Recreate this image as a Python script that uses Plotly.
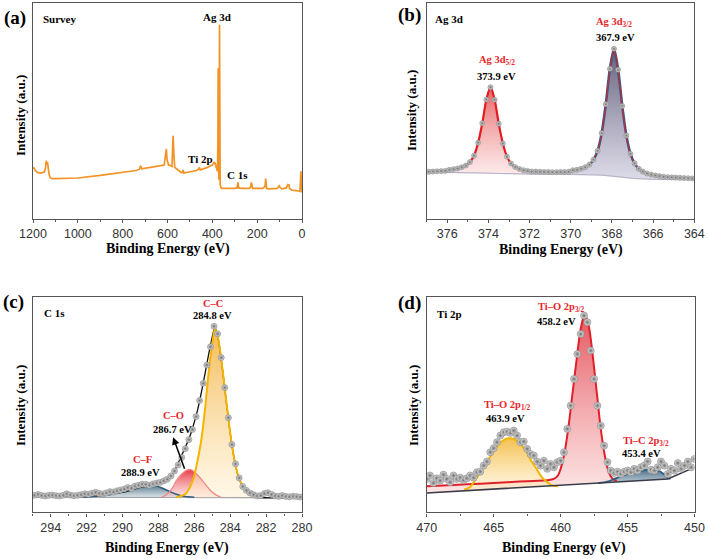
import plotly.graph_objects as go

# ---------------- (a) Survey ----------------
survey_be = [1200, 1195, 1190, 1180, 1165, 1150, 1145, 1141, 1138, 1135, 1132, 1128, 1122, 1115, 1100,
             1000, 900, 800, 740, 725, 720, 715, 700, 650, 615, 608, 605, 602, 595, 585, 580, 577, 575,
             572, 568, 560, 540, 533, 530, 527, 500, 470, 462, 458, 454, 430, 400, 392, 388, 384, 380,
             377, 375, 374, 373, 371, 369, 368, 367, 365, 362, 358, 300, 290, 286, 282, 270, 235, 230,
             226, 220, 175, 165, 162, 158, 150, 110, 102, 98, 90, 70, 63, 58, 55, 45, 30, 15, 9, 7, 5,
             3, 1, 0]
survey_int = [23.9, 23.6, 22.5, 21.6, 21.3, 21.8, 23.1, 27.0, 25.2, 26.4, 23.6, 20.5, 19.0, 18.7, 18.7,
              19.0, 20.2, 21.6, 22.5, 23.1, 24.7, 23.3, 23.5, 24.4, 25.0, 29.0, 32.4, 27.5, 25.0, 24.7,
              24.4, 33.6, 38.6, 30.6, 24.1, 23.3, 21.6, 21.6, 22.8, 21.3, 21.8, 22.5, 23.1, 23.9, 22.8,
              23.6, 25.0, 26.2, 25.9, 24.4, 23.1, 22.1, 36.7, 69.9, 36.7, 18.2, 39.8, 90.0, 36.7, 15.9,
              14.7, 14.2, 14.2, 14.4, 17.0, 14.4, 14.2, 14.2, 14.7, 17.0, 14.2, 14.2, 15.1, 18.7, 14.2,
              14.0, 14.2, 15.4, 14.7, 14.0, 14.4, 15.9, 15.7, 14.0, 13.4, 13.3, 13.0, 12.8, 18.2, 22.1,
              16.7, 12.7, 12.3]
survey_ticks = [1200, 1000, 800, 600, 400, 200, 0]

# ---------------- (b) Ag 3d ----------------
ag_be = [376.9, 376.7, 376.5, 376.3, 376.1, 375.9, 375.7, 375.5, 375.3, 375.1, 374.9, 374.7, 374.5,
         374.3, 374.1, 373.9, 373.7, 373.5, 373.3, 373.1, 372.9, 372.7, 372.5, 372.3, 372.1, 371.9,
         371.7, 371.5, 371.3, 371.1, 370.9, 370.7, 370.5, 370.3, 370.1, 369.9, 369.7, 369.5, 369.3,
         369.1, 368.9, 368.7, 368.5, 368.3, 368.1, 367.9, 367.7, 367.5, 367.3, 367.1, 366.9, 366.7,
         366.5, 366.3, 366.1, 365.9, 365.7, 365.5, 365.3, 365.1, 364.9, 364.7, 364.5, 364.3, 364.1]
ag_int = [21.9, 22.0, 22.1, 22.2, 22.3, 22.8, 23.1, 23.4, 24.0, 24.8, 26.4, 29.4, 35.4,
          44.4, 55.4, 61.1, 55.3, 44.2, 35.0, 28.9, 25.7, 24.1, 23.2, 22.6, 22.3, 22.0,
          22.0, 21.9, 21.8, 21.8, 21.7, 21.7, 21.8, 21.8, 21.9, 22.6, 22.8, 23.3, 24.0,
          25.2, 27.5, 31.6, 39.8, 53.2, 69.6, 78.9, 69.2, 52.4, 38.7, 30.2, 25.8, 23.3,
          22.0, 21.1, 20.6, 20.2, 19.9, 19.6, 19.4, 19.3, 19.2, 19.1, 19.0, 18.9, 18.8]
ag_bg_be = [377, 375.5, 374.5, 374.0, 373.5, 373.0, 372.0, 370.0, 369.0, 368.5, 368.0, 367.5, 367.0, 366.0, 364.0]
ag_bg = [21.7, 21.6, 21.5, 21.3, 21.1, 20.9, 20.8, 20.7, 20.5, 20.3, 19.9, 19.4, 18.8, 18.4, 18.2]
ag_split = 370.1
ag_ticks = [376, 374, 372, 370, 368, 366, 364]

# ---------------- (c) C 1s ----------------
c_be = [294.9, 294.7, 294.5, 294.3, 294.1, 293.9, 293.7, 293.5, 293.3, 293.1, 292.9, 292.7, 292.5,
        292.3, 292.1, 291.9, 291.7, 291.5, 291.3, 291.1, 290.9, 290.7, 290.5, 290.3, 290.1, 289.9,
        289.7, 289.5, 289.3, 289.1, 288.9, 288.7, 288.5, 288.3, 288.1, 287.9, 287.7, 287.5, 287.3,
        287.1, 286.9, 286.7, 286.5, 286.3, 286.1, 285.9, 285.7, 285.5, 285.3, 285.1, 284.9, 284.7,
        284.5, 284.3, 284.1, 283.9, 283.7, 283.5, 283.3, 283.1, 282.9, 282.7, 282.5, 282.3, 282.1,
        281.9, 281.7, 281.5, 281.3, 281.1, 280.9, 280.7, 280.5, 280.3, 280.1]
c_int = [7.9, 8.3, 7.8, 7.6, 7.9, 8.0, 7.7, 7.6, 7.9, 8.6, 8.0, 7.7, 7.9,
         8.2, 8.6, 8.4, 8.9, 9.3, 8.8, 8.5, 9.0, 9.6, 9.4, 10.0, 10.4, 10.8,
         11.5, 11.2, 12.2, 12.6, 13.1, 13.0, 12.6, 13.2, 13.6, 13.9, 14.6, 15.4, 16.9,
         19.2, 22.0, 25.5, 29.6, 33.8, 38.5, 44.5, 52.0, 60.0, 68.5, 77.0, 86.5, 83.0,
         72.0, 58.0, 44.0, 31.5, 22.5, 16.0, 12.0, 10.2, 9.0, 8.2, 7.6, 7.8, 8.7,
         9.1, 8.3, 7.6, 7.4, 7.8, 7.4, 7.2, 7.5, 7.3, 7.1]
c_fit_be = [295, 292, 291, 290, 289, 288.5, 288, 287.5, 287.2, 287.0, 286.8, 286.5, 286.2, 286.0,
            285.8, 285.6, 285.4, 285.2, 285.0, 284.85, 284.7, 284.5, 284.3, 284.1, 283.9, 283.7,
            283.5, 283.2, 282.9, 282.5, 280]
c_fit = [7.4, 7.8, 8.5, 9.3, 11.6, 12.4, 13.6, 15.5, 17.8, 20.9, 24.8, 30.2, 36.4, 41.9,
         48.1, 56.0, 64.5, 73.5, 81.5, 86.0, 82.2, 71.3, 57.4, 43.4, 31.0, 21.7,
         15.5, 10.9, 8.1, 7.0, 6.8]
c_bg_be = [295, 280]
c_bg = [7.0, 6.8]
cc_be = [287.0, 286.5, 286.2, 286.0, 285.8, 285.6, 285.4, 285.2, 285.0, 284.85, 284.7, 284.5, 284.3,
         284.1, 283.9, 283.7, 283.5, 283.2, 282.9, 282.5]
cc_int = [7.0, 8.5, 12.4, 17.1, 24.8, 34.1, 48.1, 65.1, 78.3, 85.6, 82.2, 71.3, 57.4,
          43.4, 31.0, 21.7, 15.5, 10.9, 8.1, 7.0]
co_be = [287.8, 287.5, 287.2, 287.0, 286.7, 286.4, 286.2, 286.0, 285.7, 285.4, 285.1, 284.8, 284.5]
co_int = [7.0, 8.5, 11.6, 14.7, 17.8, 19.7, 19.8, 18.9, 16.3, 13.2, 10.1, 8.1, 7.0]
cf_be = [292.5, 292, 291, 290.5, 290, 289.5, 289, 288.6, 288.2, 287.8, 287.4, 287.0, 286.5, 286.0]
cf_int = [7.0, 7.1, 7.8, 8.5, 9.9, 11.3, 12.4, 12.7, 12.4, 11.3, 9.8, 8.4, 7.3, 7.0]
c_ticks = [294, 292, 290, 288, 286, 284, 282, 280]

# ---------------- (d) Ti 2p ----------------
ti_be = [470.0, 469.75, 469.5, 469.25, 469.0, 468.75, 468.5, 468.25, 468.0, 467.75, 467.5, 467.25,
         467.0, 466.75, 466.5, 466.25, 466.0, 465.75, 465.5, 465.25, 465.0, 464.75, 464.5, 464.25,
         464.0, 463.75, 463.5, 463.25, 463.0, 462.75, 462.5, 462.25, 462.0, 461.75, 461.5, 461.25,
         461.0, 460.75, 460.5, 460.25, 460.0, 459.75, 459.5, 459.25, 459.0, 458.75, 458.5, 458.25,
         458.0, 457.75, 457.5, 457.25, 457.0, 456.75, 456.5, 456.25, 456.0, 455.75, 455.5, 455.25,
         455.0, 454.75, 454.5, 454.25, 454.0, 453.75, 453.5, 453.25, 453.0, 452.75, 452.5, 452.25,
         452.0, 451.75, 451.5, 451.25, 451.0, 450.75, 450.5, 450.25, 450.0]
ti_int = [15.5, 17.1, 13.6, 15.8, 14.7, 17.5, 15.5, 14.0, 17.1, 15.5, 16.1, 14.9,
          15.8, 17.1, 16.1, 18.6, 18.9, 21.7, 23.6, 27.9, 29.8, 32.6, 35.7, 37.2,
          37.5, 36.9, 38.0, 35.7, 32.6, 32.9, 29.5, 27.1, 26.4, 23.6, 21.7, 24.0,
          20.2, 22.5, 20.9, 23.3, 24.0, 27.9, 38.8, 49.6, 62.0, 73.6, 82.9, 91.5,
          88.4, 75.2, 62.0, 49.6, 40.3, 31.0, 23.3, 19.4, 18.3, 18.9, 17.8, 18.9,
          19.4, 18.6, 20.2, 19.4, 20.9, 21.7, 23.6, 19.8, 19.4, 20.9, 23.6, 21.7,
          17.8, 20.2, 19.4, 22.9, 20.2, 21.7, 23.6, 20.9, 24.8]
ti_bg_be = [470, 452, 450]
ti_bg = [9.0, 15.5, 20.9]
tio32_be = [470, 468, 466, 464, 462, 461, 460.5, 460.2, 460.0, 459.7, 459.4, 459.1, 458.8, 458.5,
            458.2, 457.9, 457.6, 457.3, 457.0, 456.7, 456.4, 456.1, 455.8]
tio32_int = [12.1, 12.7, 13.3, 14.0, 14.6, 14.9, 15.5, 17.1, 20.2, 27.9, 40.3, 55.8, 71.3, 85.3,
             92.2, 86.8, 72.9, 55.8, 38.8, 26.4, 18.6, 15.5, 14.7]
tio12_be = [467.2, 466.8, 466.4, 466.0, 465.6, 465.2, 464.8, 464.4, 464.0, 463.7, 463.4, 463.0,
            462.6, 462.2, 461.8, 461.4, 461.0, 460.6, 460.2]
tio12_int = [10.5, 11.6, 14.7, 18.6, 22.5, 26.4, 30.2, 32.9, 34.3, 34.4, 33.8, 31.8,
             28.7, 24.0, 20.2, 16.3, 14.0, 12.4, 12.1]
tic_be = [457.2, 456.5, 456.0, 455.5, 455.0, 454.5, 454.0, 453.5, 453.0, 452.6, 452.3, 452.0, 451.8]
tic_int = [13.6, 14.3, 15.5, 16.7, 17.8, 18.8, 19.4, 19.8, 19.7, 19.1, 17.8, 16.0, 15.5]
ti_ticks = [470, 465, 460, 455, 450]

# ---------------- style ----------------
SERIF = "Liberation Serif, Times New Roman, serif"
SANS = "Liberation Sans, Arial, sans-serif"
RED_TXT = "#E8262A"
FRAME = "#555555"

fig = go.Figure()


def poly(be, val, bg_be, bg_val, lo=None, hi=None, tol=0.01):
    lo = min(be) if lo is None else lo
    hi = max(be) if hi is None else hi
    pts = [(x, y) for x, y in zip(be, val) if lo - 1e-9 <= x <= hi + 1e-9]
    pts.sort(key=lambda p: -p[0])
    base = [(x, y) for x, y in zip(bg_be, bg_val) if lo - tol <= x <= hi + tol]
    base.sort(key=lambda p: p[0])
    allp = pts + base
    return [p[0] for p in allp], [p[1] for p in allp]


def add_fill(be, val, bg_be, bg_val, xa, ya, c_bot, c_top, lo=None, hi=None, tol=0.01):
    xs, ys = poly(be, val, bg_be, bg_val, lo, hi, tol)
    fig.add_trace(go.Scatter(x=xs, y=ys, xaxis=xa, yaxis=ya, mode="lines", fill="toself",
                             line=dict(width=0, color="rgba(0,0,0,0)"),
                             fillgradient=dict(type="vertical", colorscale=[[0, c_bot], [1, c_top]]),
                             hoverinfo="skip", showlegend=False))


def add_line(be, val, xa, ya, color, width, shape="spline"):
    fig.add_trace(go.Scatter(x=be, y=val, xaxis=xa, yaxis=ya, mode="lines",
                             line=dict(color=color, width=width, shape=shape, smoothing=0.8),
                             hoverinfo="skip", showlegend=False))


def add_points(be, val, xa, ya, size):
    fig.add_trace(go.Scatter(x=be, y=val, xaxis=xa, yaxis=ya, mode="markers",
                             marker=dict(symbol="circle", size=size, color="#E6E6E6",
                                         gradient=dict(type="radial", color="#6E6E6E"),
                                         line=dict(color="#7A7A7A", width=0.6)),
                             hoverinfo="skip", showlegend=False))


# (a)
fig.add_trace(go.Scatter(x=survey_be, y=survey_int, xaxis="x", yaxis="y", mode="lines",
                         line=dict(color="#F39325", width=1.7), hoverinfo="skip", showlegend=False))

# (b)
add_fill(ag_be, ag_int, ag_bg_be, ag_bg, "x2", "y2", "rgba(250,215,215,0.55)", "rgba(225,70,70,0.85)",
         lo=ag_split, hi=377, tol=0.15)
add_fill(ag_be, ag_int, ag_bg_be, ag_bg, "x2", "y2", "rgba(205,203,222,0.7)", "rgba(80,76,105,0.9)",
         lo=364, hi=ag_split, tol=0.15)
add_line(ag_bg_be, ag_bg, "x2", "y2", "#B9B4C8", 1.2, "linear")
blue_be = [x for x in ag_be if x <= ag_split]
blue_int = [y for x, y in zip(ag_be, ag_int) if x <= ag_split]
add_line(blue_be, blue_int, "x2", "y2", "#2D5F8C", 2.6)
red_be = [x for x in ag_be if x >= ag_split]
red_int = [y for x, y in zip(ag_be, ag_int) if x >= ag_split]
add_line(red_be, red_int, "x2", "y2", "#E41E25", 2.2)
add_line(ag_be, ag_int, "x2", "y2", "#E41E25", 1.0)
add_points(ag_be, ag_int, "x2", "y2", 5)

# (c)
add_line(c_bg_be, c_bg, "x3", "y3", "#9A9A9A", 1.2, "linear")
add_fill(cf_be, cf_int, c_bg_be, c_bg, "x3", "y3", "rgba(190,205,212,0.6)", "rgba(55,95,120,0.9)")
add_fill(co_be, co_int, c_bg_be, c_bg, "x3", "y3", "rgba(250,205,205,0.55)", "rgba(230,40,50,0.9)")
add_fill(cc_be, cc_int, c_bg_be, c_bg, "x3", "y3", "rgba(255,242,215,0.6)", "rgba(243,180,70,0.9)")
add_line(c_fit_be, c_fit, "x3", "y3", "#111111", 1.3)
add_line(cf_be, cf_int, "x3", "y3", "#2F5B78", 1.5)
add_line(co_be, co_int, "x3", "y3", "#F08A8A", 1.3)
add_line(cc_be, cc_int, "x3", "y3", "#F4B400", 2.0)
add_points(c_be, c_int, "x3", "y3", 6)

# (d)
add_fill(tio32_be, tio32_int, ti_bg_be, ti_bg, "x4", "y4", "rgba(250,210,210,0.6)", "rgba(225,55,65,0.85)")
add_fill(tio12_be, tio12_int, ti_bg_be, ti_bg, "x4", "y4", "rgba(255,238,200,0.6)", "rgba(242,185,60,0.9)")
add_fill(tic_be, tic_int, ti_bg_be, ti_bg, "x4", "y4", "rgba(160,180,195,0.7)", "rgba(55,95,125,0.9)")
add_line(tio32_be, tio32_int, "x4", "y4", "#E0202A", 2.0)
add_line(tio12_be, tio12_int, "x4", "y4", "#F2B600", 2.0)
add_line(tic_be, tic_int, "x4", "y4", "#2F5F80", 1.8)
add_line(ti_bg_be, ti_bg, "x4", "y4", "#3A3A48", 1.6, "linear")
add_points(ti_be, ti_int, "x4", "y4", 7)

# ---------------- axes ----------------
W, H = 709, 559


def xdom(l, r):
    return [l / W, r / W]


def ydom(t, b):
    return [1 - b / H, 1 - t / H]


panels = [
    ("", xdom(33, 302), ydom(3.3, 219), [1200, 0], survey_ticks, 100),
    ("2", xdom(426.7, 694.3), ydom(3.3, 219), [377, 364], ag_ticks, 1),
    ("3", xdom(32.7, 302), ydom(297.3, 512.3), [295, 280], c_ticks, 1),
    ("4", xdom(426.7, 694.5), ydom(297.3, 512.3), [470, 450], ti_ticks, 2.5),
]
lay = {}
for s, xd, yd, xr, tv, mdt in panels:
    lay["xaxis" + s] = dict(domain=xd, anchor="y" + s, range=xr, tickmode="array", tickvals=tv,
                            ticks="outside", ticklen=3, tickwidth=1.2, tickcolor=FRAME,
                            minor=dict(ticks="outside", ticklen=2, dtick=mdt, tickcolor=FRAME, tickwidth=1),
                            showline=True, linecolor=FRAME, linewidth=1.4, mirror=True,
                            showgrid=False, zeroline=False, automargin=False,
                            tickfont=dict(family=SANS, size=12.5, color="#333333"))
    lay["yaxis" + s] = dict(domain=yd, anchor="x" + s, range=[0, 100], showticklabels=False,
                            ticks="", showline=True, linecolor=FRAME, linewidth=1.4, mirror=True,
                            showgrid=False, zeroline=False, automargin=False)

fig.update_layout(width=W, height=H, margin=dict(l=0, r=0, t=0, b=0, pad=0, autoexpand=False),
                  paper_bgcolor="white", plot_bgcolor="white", showlegend=False, **lay)

ann = []


def txt(x, y, s, xref, yref, size=10.5, color="black", angle=0):
    ann.append(dict(x=x, y=y, xref=xref, yref=yref, text=s, showarrow=False, textangle=angle,
                    font=dict(family=SERIF, size=size, color=color), xanchor="center", yanchor="middle"))


# panel labels
for lab, px, py in [("(a)", 15, 18), ("(b)", 409, 15), ("(c)", 13, 302), ("(d)", 409, 303)]:
    txt(px / W, 1 - py / H, "<b>%s</b>" % lab, "paper", "paper", size=19)
# axis titles
for px, py in [(168, 249), (561, 250), (167, 548), (564, 548)]:
    txt(px / W, 1 - py / H, "<b>Binding Energy (eV)</b>", "paper", "paper", size=14)
for px, py in [(20, 116), (412, 111), (20, 406), (413, 406)]:
    txt(px / W, 1 - py / H, "<b>Intensity (a.u.)</b>", "paper", "paper", size=13, angle=-90)

# (a)
txt(1079, 92.6, "<b>Survey</b>", "x", "y", size=11)
txt(378, 93.5, "<b>Ag 3d</b>", "x", "y", size=11)
txt(454, 27.8, "<b>Ti 2p</b>", "x", "y", size=11)
txt(288, 20.4, "<b>C 1s</b>", "x", "y", size=11)
# (b)
txt(375.9, 92.6, "<b>Ag 3d</b>", "x2", "y2", size=11)
txt(373.6, 73.4, "<b>Ag 3d<sub>5/2</sub></b>", "x2", "y2", color=RED_TXT)
txt(373.6, 66.0, "<b>373.9 eV</b>", "x2", "y2")
txt(367.9, 91.0, "<b>Ag 3d<sub>3/2</sub></b>", "x2", "y2", color=RED_TXT)
txt(367.85, 84.0, "<b>367.9 eV</b>", "x2", "y2")
# (c)
txt(293.76, 92.7, "<b>C 1s</b>", "x3", "y3", size=11)
txt(284.96, 97.0, "<b>C–C</b>", "x3", "y3", color=RED_TXT)
txt(284.96, 91.4, "<b>284.8 eV</b>", "x3", "y3")
txt(287.18, 45.1, "<b>C–O</b>", "x3", "y3", color=RED_TXT)
txt(287.24, 38.6, "<b>286.7 eV</b>", "x3", "y3")
txt(288.86, 24.6, "<b>C–F</b>", "x3", "y3", color=RED_TXT)
txt(289.02, 18.7, "<b>288.9 eV</b>", "x3", "y3")
ann.append(dict(x=287.18, y=34.9, xref="x3", yref="y3", ax=12, ay=33, text="", showarrow=True,
                arrowhead=2, arrowsize=1, arrowwidth=1.5, arrowcolor="black"))
# (d)
txt(468.33, 92.2, "<b>Ti 2p</b>", "x4", "y4", size=11)
txt(459.97, 95.2, "<b>Ti–O 2p<sub>3/2</sub></b>", "x4", "y4", color=RED_TXT)
txt(460.27, 88.9, "<b>458.2 eV</b>", "x4", "y4")
txt(464.0, 49.6, "<b>Ti–O 2p<sub>1/2</sub></b>", "x4", "y4", color=RED_TXT)
txt(464.08, 43.7, "<b>463.9 eV</b>", "x4", "y4")
txt(453.6, 32.9, "<b>Ti–C 2p<sub>3/2</sub></b>", "x4", "y4", color=RED_TXT)
txt(453.99, 27.5, "<b>453.4 eV</b>", "x4", "y4")

fig.update_layout(annotations=ann)
fig.write_html("out.html", config={"displayModeBar": False},
               post_script="document.body.style.margin='0px';document.body.style.overflow='hidden';")
